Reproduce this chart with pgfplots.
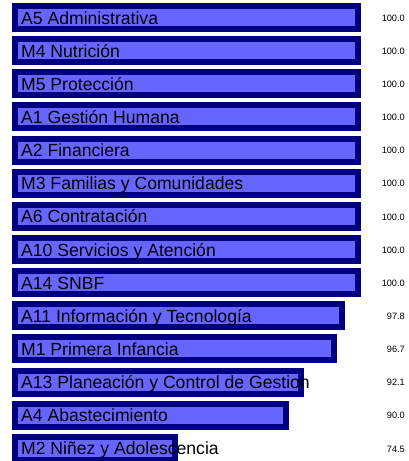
\documentclass[border=0pt]{standalone}
\usepackage{pgfplots}
\pgfplotsset{compat=1.18}
\usepackage{pgfplotstable}
\usepackage{fontspec}
\setmainfont{Liberation Sans}
\definecolor{barfill}{HTML}{6666FF}
\definecolor{barline}{HTML}{000080}
\pgfplotstableread[col sep=semicolon, row sep=\\]{
idx;val;name\\
0;100.0;A5 Administrativa\\
1;100.0;M4 Nutrición\\
2;100.0;M5 Protección\\
3;100.0;A1 Gestión Humana\\
4;100.0;A2 Financiera\\
5;100.0;M3 Familias y Comunidades\\
6;100.0;A6 Contratación\\
7;100.0;A10 Servicios y Atención\\
8;100.0;A14 SNBF\\
9;97.8;A11 Información y Tecnología\\
10;96.7;M1 Primera Infancia\\
11;92.1;A13 Planeación y Control de Gestion\\
12;90.0;A4 Abastecimiento\\
13;74.5;M2 Niñez y Adolescencia\\
}\datatable
\begin{document}
\begin{tikzpicture}
\begin{axis}[
  scale only axis,
  width=409bp, height=461bp,
  xmin=-2.09, xmax=54.99,
  ymin=-0.528, ymax=13.379,
  y dir=reverse,
  hide axis,
  clip=true,
]
% bar fills
\addplot[xbar, bar shift=0pt, bar width=0.694, draw=none, fill=barfill]
  table[x expr=\thisrow{val}-52.17, y=idx] {\datatable};
% category labels
\addplot[draw=none, mark=none, nodes near coords,
  point meta=explicit symbolic,
  every node near coord/.style={anchor=base west, inner sep=0pt, xshift=6bp, yshift=-6.5bp,
    font=\fontsize{17.6bp}{20bp}\selectfont, text=black}]
  table[x expr=0, y=idx, meta=name] {\datatable};
% bar borders
\addplot[xbar, bar shift=0pt, bar width=0.694, draw=barline, line width=6bp, fill=none]
  table[x expr=\thisrow{val}-52.17, y=idx] {\datatable};
% value labels
\addplot[draw=none, mark=none, nodes near coords,
  point meta=explicit symbolic,
  every node near coord/.style={anchor=east, inner sep=0pt, yshift=-0.5bp,
    font=\fontsize{9.2bp}{11bp}\selectfont, text=black}]
  table[x expr=54.43, y=idx, meta=val] {\datatable};
\draw[draw=none] (rel axis cs:0,0) rectangle (rel axis cs:1,1);
\end{axis}
\end{tikzpicture}
\end{document}
